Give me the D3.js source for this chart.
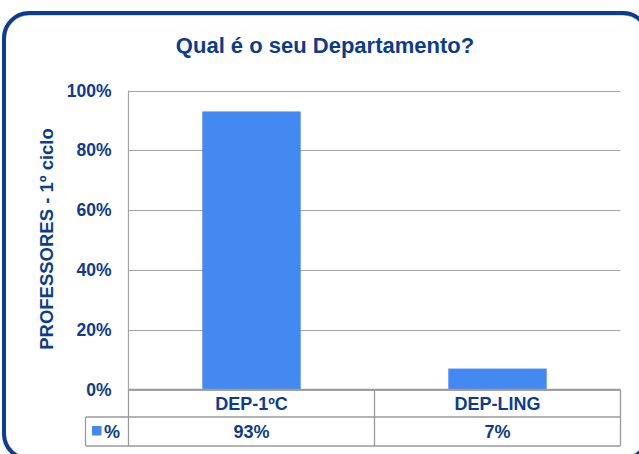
<!DOCTYPE html>
<html><head><meta charset="utf-8">
<script src="https://cdn.jsdelivr.net/npm/d3@7"></script>
<style>html,body{margin:0;padding:0;background:#fff;}svg{display:block;}</style>
</head><body>
<script>
const titleText = "Qual é o seu Departamento?";
const yAxisTitle = "PROFESSORES - 1º ciclo";
const categories = ["DEP-1ºC", "DEP-LING"];
const values = [93, 7];
const valueLabels = ["93%", "7%"];
const yTicks = [0, 20, 40, 60, 80, 100];
const seriesName = "%";

const W = 639, H = 454;
const dark = "#0c3c91", barColor = "#4488f2", grid = "#a6a6a6";
const font = "Liberation Sans, Arial, sans-serif";

const svg = d3.select("body").append("svg").attr("width", W).attr("height", H);

// outer rounded frame
svg.append("rect").attr("x", 5.5).attr("y", 15).attr("width", 641).attr("height", 442)
  .attr("rx", 24).attr("fill", "none").attr("stroke", "#9db9e4").attr("stroke-width", 1);
svg.append("rect").attr("x", 4).attr("y", 13).attr("width", 644).attr("height", 446)
  .attr("rx", 25).attr("fill", "none").attr("stroke", dark).attr("stroke-width", 4);

const plotL = 128.5, plotR = 620.5, plotT = 90.5, plotB = 389.5;
const x = d3.scaleBand().domain(categories).range([plotL, plotR]).padding(0);
const y = d3.scaleLinear().domain([0, 100]).range([plotB, plotT]);

// title
svg.append("text").attr("x", 325).attr("y", 53).attr("text-anchor", "middle")
  .attr("font-family", font).attr("font-weight", "bold").attr("font-size", 22)
  .attr("fill", dark).text(titleText);

// gridlines
svg.append("g").selectAll("line").data(yTicks).join("line")
  .attr("x1", plotL).attr("x2", plotR)
  .attr("y1", d => Math.round(y(d)) + 0.5).attr("y2", d => Math.round(y(d)) + 0.5)
  .attr("stroke", grid).attr("stroke-width", 1.2);

// y axis (labels only)
const yAxis = d3.axisLeft(y).tickValues(yTicks).tickFormat(d => d + "%").tickSize(0).tickPadding(17);
const gy = svg.append("g").attr("transform", `translate(${plotL},0)`).call(yAxis);
gy.select(".domain").remove();
gy.selectAll("text").attr("font-family", font).attr("font-weight", "bold")
  .attr("font-size", 17.5).attr("fill", dark);

// left plot border
svg.append("line").attr("x1", plotL).attr("x2", plotL).attr("y1", plotT).attr("y2", plotB)
  .attr("stroke", grid).attr("stroke-width", 1.2);

// bars
const barFrac = 0.4;
svg.append("g").selectAll("rect").data(values).join("rect")
  .attr("x", (d, i) => x(categories[i]) + x.bandwidth() * (1 - barFrac) / 2)
  .attr("width", x.bandwidth() * barFrac)
  .attr("y", d => y(d)).attr("height", d => y(0) - y(d))
  .attr("fill", barColor);

// y axis title
svg.append("text").attr("transform", "translate(53,239) rotate(-90)")
  .attr("text-anchor", "middle").attr("font-family", font).attr("font-weight", "bold")
  .attr("font-size", 18.5).attr("fill", dark).text(yAxisTitle);

// data table
const row1T = plotB, row1B = 417, row2B = 446, legL = 85.5;
const tbl = svg.append("g").attr("stroke", "#9a9a9a").attr("stroke-width", 1.3).attr("fill", "none");
tbl.append("line").attr("x1", plotL).attr("x2", plotR).attr("y1", row1T).attr("y2", row1T);
tbl.append("line").attr("x1", legL).attr("x2", plotR).attr("y1", row1B).attr("y2", row1B);
tbl.append("line").attr("x1", legL).attr("x2", plotR).attr("y1", row2B).attr("y2", row2B);
tbl.append("line").attr("x1", legL).attr("x2", legL).attr("y1", row1B).attr("y2", row2B);
tbl.append("line").attr("x1", plotL).attr("x2", plotL).attr("y1", row1T).attr("y2", row2B);
categories.forEach(c => {
  const xr = x(c) + x.bandwidth();
  tbl.append("line").attr("x1", xr).attr("x2", xr).attr("y1", row1T).attr("y2", row2B);
});

svg.append("g").selectAll("text").data(categories).join("text")
  .attr("x", d => x(d) + x.bandwidth() / 2).attr("y", 410).attr("text-anchor", "middle")
  .attr("font-family", font).attr("font-weight", "bold").attr("font-size", 18).attr("fill", dark)
  .text(d => d);
svg.append("g").selectAll("text").data(valueLabels).join("text")
  .attr("x", (d, i) => x(categories[i]) + x.bandwidth() / 2).attr("y", 438).attr("text-anchor", "middle")
  .attr("font-family", font).attr("font-weight", "bold").attr("font-size", 18).attr("fill", dark)
  .text(d => d);

// legend key
svg.append("rect").attr("x", 92).attr("y", 426).attr("width", 9.5).attr("height", 9.5).attr("fill", barColor);
svg.append("text").attr("x", 104).attr("y", 438).attr("font-family", font).attr("font-weight", "bold")
  .attr("font-size", 18).attr("fill", dark).text(seriesName);
</script>
</body></html>
